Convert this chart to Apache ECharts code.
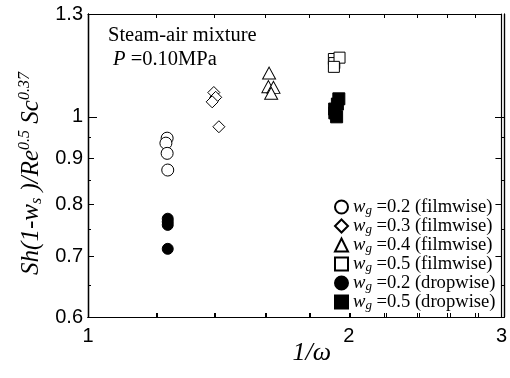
<!DOCTYPE html>
<html>
<head>
<meta charset="utf-8">
<script src="https://cdn.jsdelivr.net/npm/echarts@6/dist/echarts.min.js"></script>
<style>html,body{margin:0;padding:0;background:#fff}#c{width:510px;height:378px}</style>
</head>
<body>
<div id="c"></div>
<script>
// ---- data ----
const xLabelValues = [1, 2, 3];
const xTickValues = [1, 1.2, 1.4, 1.6, 1.8, 2, 2.2, 2.4, 2.6, 2.8, 3];
const yLabelValues = [0.6, 0.7, 0.8, 0.9, 1, 1.3];
const yTicksMedium = [0.6, 0.7, 0.8, 0.9];
const yTicksLong = [1];
const yTicksShort = [0.65, 0.75, 0.85, 0.95];

const filmwise02 = [[1.234, 0.947], [1.230, 0.935], [1.234, 0.911], [1.236, 0.873]];
const filmwise03 = [[1.397, 1.064], [1.404, 1.051], [1.391, 1.039], [1.416, 0.975]];
const filmwise04 = [[1.618, 1.118], [1.615, 1.080], [1.637, 1.078], [1.627, 1.062]];
const filmwise05 = [[1.922, 1.159], [1.924, 1.147], [1.951, 1.163], [1.922, 1.136]];
const dropwise02 = [[1.236, 0.771], [1.236, 0.765], [1.236, 0.759], [1.236, 0.714]];
const dropwise05 = [[1.9475, 1.047], [1.940, 1.033], [1.926, 1.020], [1.927, 1.010], [1.936, 1.000]];

const legendNames = ['0.2 (filmwise)', '0.3 (filmwise)', '0.4 (filmwise)', '0.5 (filmwise)', '0.2 (dropwise)', '0.5 (dropwise)'];

const chart = echarts.init(document.getElementById('c'), null, {renderer: 'canvas'});
const gridBox = {left: 88, right: 6, top: 14, bottom: 61};
const sans = 'Liberation Sans, Arial, sans-serif';
const serif = 'Liberation Serif, Times New Roman, serif';

function xAx(gridIndex, pos, labels) {
  return {
    type: 'log', min: 1, max: 3, gridIndex: gridIndex, position: pos,
    axisLine: {show: true, lineStyle: {color: '#000', width: 1.2}},
    axisTick: {show: true, inside: true, length: 4, customValues: xTickValues, lineStyle: {color: '#000', width: 1}},
    axisLabel: {show: labels, customValues: xLabelValues, fontFamily: sans, fontSize: 20, color: '#000', margin: 9},
    splitLine: {show: false}
  };
}
function yAx(gridIndex, pos, labels, ticks, len) {
  return {
    type: 'log', min: 0.6, max: 1.3, gridIndex: gridIndex, position: pos,
    axisLine: {show: true, lineStyle: {color: '#000', width: 1.2}},
    axisTick: {show: true, inside: true, length: len, customValues: ticks, lineStyle: {color: '#000', width: 1}},
    axisLabel: {show: labels, customValues: yLabelValues, fontFamily: sans, fontSize: 20, color: '#000', margin: 5},
    splitLine: {show: false}
  };
}

const xAxes = [
  Object.assign(xAx(0, 'bottom', true), {
    name: '{i|1/ω}', nameLocation: 'middle', nameGap: 23, nameMoveOverlap: false,
    nameTextStyle: {padding: [0, 0, 0, 34], rich: {i: {fontFamily: serif, fontStyle: 'italic', fontSize: 26, color: '#000'}}}
  }),
  xAx(0, 'top', false),
  xAx(1, 'bottom', false),
  xAx(2, 'bottom', false)
];
const yAxes = [
  Object.assign(yAx(0, 'left', true, yTicksMedium, 6), {
    name: '{i|Sh(1-w}{sub|s}{i| )/Re}{sup|0.5}{i| Sc}{sup|0.37}',
    nameLocation: 'middle', nameGap: 40,
    nameTextStyle: {
      padding: [0, 16, 0, 0],
      rich: {
        i: {fontFamily: serif, fontStyle: 'italic', fontSize: 25, color: '#000'},
        sub: {fontFamily: serif, fontStyle: 'italic', fontSize: 16, color: '#000', padding: [10, 0, 0, 0]},
        sup: {fontFamily: serif, fontStyle: 'italic', fontSize: 16, color: '#000', padding: [0, 0, 14, 0]}
      }
    }
  }),
  yAx(0, 'right', false, yTicksMedium, 6),
  yAx(1, 'left', false, yTicksLong, 9),
  yAx(1, 'right', false, yTicksLong, 9),
  yAx(2, 'left', false, yTicksShort, 3),
  yAx(2, 'right', false, yTicksShort, 3)
];

const open = {color: '#fff', borderColor: '#000', borderWidth: 1, opacity: 1};
const filled = {color: '#000', borderColor: '#000', borderWidth: 1, opacity: 1};
function sc(name, data, symbol, size, style) {
  return {type: 'scatter', name: name, data: data, symbol: symbol, symbolSize: size,
    xAxisIndex: 0, yAxisIndex: 0, itemStyle: style, emphasis: {disabled: true}, silent: true};
}

const option = {
  animation: false,
  backgroundColor: '#fff',
  grid: [gridBox, gridBox, gridBox].map(g => Object.assign({}, g)),
  xAxis: xAxes,
  yAxis: yAxes,
  legend: {
    orient: 'vertical', left: 334, top: 197, padding: 0, itemWidth: 13, itemHeight: 13, itemGap: -1,
    selectedMode: false,
    formatter: function (n) { return '{i|w}{s|g}{t| =' + n + '}'; },
    textStyle: {
      rich: {
        i: {fontFamily: serif, fontStyle: 'italic', fontSize: 18.6, color: '#000', lineHeight: 16},
        s: {fontFamily: serif, fontStyle: 'italic', fontSize: 13, color: '#000', lineHeight: 9, padding: [7, 0, 0, 0]},
        t: {fontFamily: serif, fontSize: 18.6, color: '#000', lineHeight: 16}
      }
    },
    data: legendNames.map(n => ({name: n}))
  },
  graphic: [
    {type: 'text', left: 108, top: 25, style: {text: 'Steam-air mixture', font: '20.5px ' + serif, fill: '#000'}},
    {type: 'text', left: 113, top: 49, style: {
      text: '{i|P} =0.10MPa', font: '20.5px ' + serif, fill: '#000',
      rich: {i: {fontFamily: serif, fontStyle: 'italic', fontSize: 20.5, fill: '#000'}}
    }}
  ],
  series: [
    sc(legendNames[0], filmwise02, 'circle', 12, open),
    sc(legendNames[1], filmwise03, 'diamond', 12, open),
    sc(legendNames[2], filmwise04, 'triangle', [13, 12], open),
    sc(legendNames[3], filmwise05, 'rect', 11, open),
    sc(legendNames[4], dropwise02, 'circle', 11, filled),
    sc(legendNames[5], dropwise05, 'rect', 12, filled)
  ]
};
chart.setOption(option);
</script>
</body>
</html>
